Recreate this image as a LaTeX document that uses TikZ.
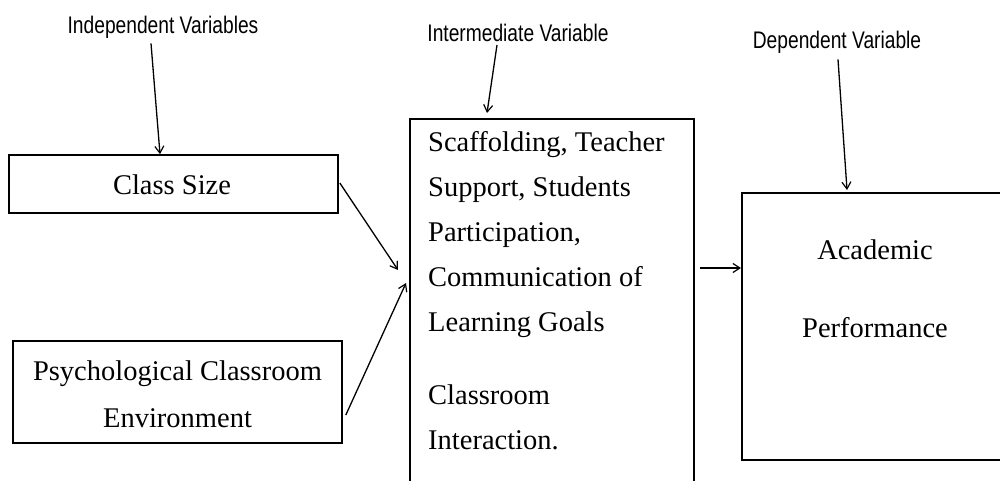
\documentclass[tikz,border=0pt]{standalone}
\usepackage{fontspec}
\setmainfont{Liberation Serif}
\newfontfamily\lblfont[FakeStretch=0.8]{Liberation Sans}
\usetikzlibrary{arrows.meta,calc}
\begin{document}
\begin{tikzpicture}[x=1pt,y=-1pt,
  box/.style={draw,line width=1.6pt,inner sep=0pt},
  arr/.style={line width=1.3pt,-{Straight Barb[length=7pt,width=9pt,line width=1.2pt]}},
  lbl/.style={font=\lblfont\fontsize{24}{26}\selectfont,inner sep=0pt},
  btxt/.style={font=\fontsize{28.5}{45}\selectfont,inner sep=0pt}]
\useasboundingbox (0,0) rectangle (1000,481);
\clip (0,0) rectangle (1000,481);
\fill[white] (0,0) rectangle (1000,481);
% boxes
\node[box,minimum width=329pt,minimum height=58pt] (cs) at (173.5,184) {};
\node[btxt] (cst) at (172,185) {Class Size};
\node[box,minimum width=329pt,minimum height=102pt] (pc) at (177.5,392) {};
\node[btxt,align=center] (pct) at (177.5,394) {Psychological Classroom\\[2pt]Environment};
\node[box,minimum width=284pt,minimum height=372pt,anchor=north west] (mid) at (409,118) {};
\node[btxt,align=left,anchor=north west] (midt) at (428,131) {Scaffolding, Teacher\\Support, Students\\Participation,\\Communication of\\Learning Goals\\[28pt]Classroom\\Interaction.};
\node[box,minimum width=300pt,minimum height=267pt,anchor=north west] (ap) at (741,192) {};
\node[btxt,align=center] (apt) at (875,289) {Academic\\[33pt]Performance};
% labels
\node[lbl] (iv) at (163,27) {Independent Variables};
\node[lbl] (mv) at (518,33) {Intermediate Variable};
\node[lbl] (dv) at (837,42) {Dependent Variable};
% arrows
\draw[arr] ($(iv.south)+(-12,5)$) -- ($(cs.north)+(-13.5,0)$);
\draw[arr] ($(mv.south)+(-21,3)$) -- ($(mid.north west)+(78,-5)$);
\draw[arr] ($(dv.south)+(1,6)$) -- ($(ap.north west)+(106,-2)$);
\draw[arr] ($(cs.east)+(1,-1)$) -- ($(mid.north west)+(-11,152)$);
\draw[arr] ($(pc.east)+(3,23)$) -- ($(mid.north west)+(-3,165)$);
\draw[arr] ($(mid.north east)+(5,150)$) -- ($(ap.north west)+(0,76)$);
\end{tikzpicture}
\end{document}
